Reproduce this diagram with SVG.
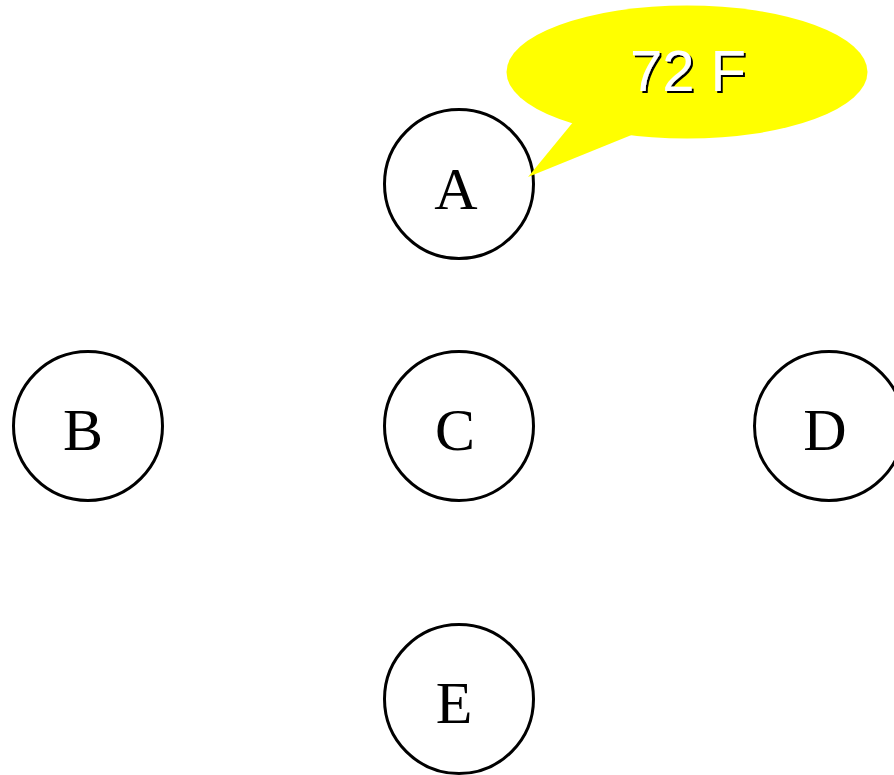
<svg xmlns="http://www.w3.org/2000/svg" width="894" height="775" viewBox="0 0 894 775">
<defs>
<filter id="sh" x="-20%" y="-20%" width="140%" height="140%">
<feOffset in="SourceAlpha" dx="2" dy="2" result="o"/>
<feFlood flood-color="#000"/>
<feComposite in2="o" operator="in" result="s"/>
<feMerge><feMergeNode in="s"/><feMergeNode in="SourceGraphic"/></feMerge>
</filter>
</defs>
<style>
.node circle{fill:#fff;stroke:#000;stroke-width:3}
.node text{font-family:"Liberation Serif","Times New Roman",serif;font-size:60px;text-anchor:middle;fill:#000}
.bt{font-family:"Liberation Sans",Arial,sans-serif;font-size:58px;text-anchor:middle;fill:#fff}
</style>
<rect width="894" height="775" fill="#fff"/>
<g id="connectors"></g>
<g id="A" class="node"><circle cx="459" cy="184" r="74.5"/><text x="456" y="209">A</text></g>
<g id="B" class="node"><circle cx="88" cy="426" r="74.5"/><text x="83" y="450">B</text></g>
<g id="C" class="node"><circle cx="459" cy="426" r="74.5"/><text x="455" y="450">C</text></g>
<g id="D" class="node"><circle cx="829" cy="426" r="74.5"/><text x="825" y="450">D</text></g>
<g id="E" class="node"><circle cx="459" cy="699" r="74.5"/><text x="454" y="723">E</text></g>
<g id="balloon">
<ellipse cx="687" cy="72" rx="180.5" ry="66.5" fill="#ff0"/>
<polygon points="574,121 528,177 634,134" fill="#ff0"/>
<text class="bt" x="688" y="91" filter="url(#sh)">72 F</text>
</g>
</svg>
